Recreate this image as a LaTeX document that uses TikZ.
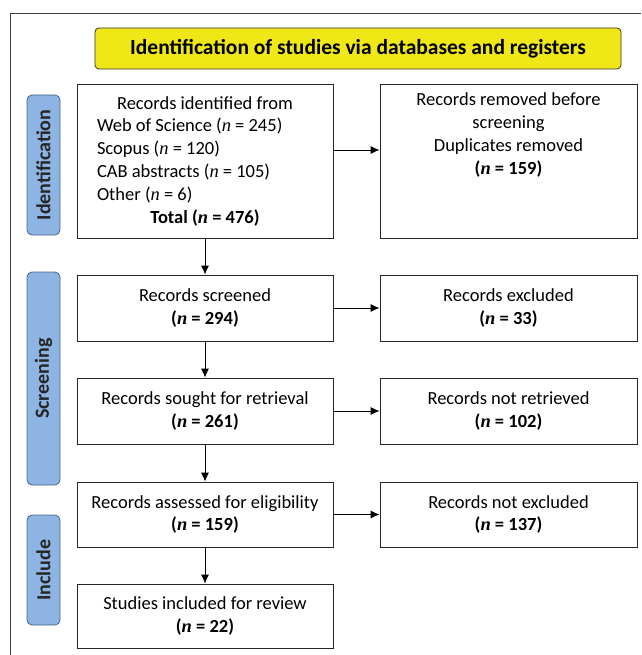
\documentclass[tikz,border=0pt]{standalone}
\usepackage{fontspec}
\setmainfont{Carlito}
\newfontfamily\serifn{Liberation Serif}
\newcommand\nn{{\serifn\itshape n}}
\usetikzlibrary{arrows.meta}
\definecolor{sideblue}{RGB}{141,180,226}
\definecolor{sideedge}{RGB}{70,100,140}
\definecolor{titleyellow}{RGB}{240,232,22}
\begin{document}
\begin{tikzpicture}[x=1pt,y=-1pt,
  box/.style={draw=black!85, line width=0.8pt, fill=white, minimum width=256, align=center, inner sep=0pt, font=\fontsize{18.5}{22.8}\selectfont},
  rbox/.style={box, minimum width=257},
  txt/.style={align=center, inner sep=0pt, font=\fontsize{18.5}{22.8}\selectfont},
  side/.style={draw=sideedge, line width=0.8pt, fill=sideblue, rounded corners=5pt, rotate=90, minimum height=33, inner sep=0pt, font=\fontsize{20}{22}\selectfont\bfseries, text=black!85},
  arr/.style={-{Latex[length=9pt,width=8pt]}, line width=0.8pt, black}
]
\useasboundingbox (0,0) rectangle (641,655);
\draw[black!75, line width=0.9pt] (10,655) -- (10,13) -- (641,13);
\node[draw=black!80, line width=0.8pt, fill=titleyellow, rounded corners=4pt, minimum width=526, minimum height=41, inner sep=0pt, font=\fontsize{21.5}{24}\selectfont\bfseries] (title) at (358,48.5) {Identification of studies via databases and registers};
\node[side, minimum width=140] (s1) at (43.5,165) {Identification};
\node[side, minimum width=213] (s2) at (43.5,378.5) {Screening};
\node[side, minimum width=110] (s3) at (43.5,570) {Include};
\node[box, minimum height=154] (b1) at (205,161) {\parbox{216pt}{\centering Records identified from\par\raggedright Web of Science (\nn{} = 245)\par Scopus (\nn{} = 120)\par CAB abstracts (\nn{} = 105)\par Other (\nn{} = 6)\par\centering\textbf{Total (\nn{} = 476)}\par}};
\node[box, minimum height=66] (b2) at (205,308) {Records screened\\\textbf{(\nn{} = 294)}};
\node[box, minimum height=66] (b3) at (205,411) {Records sought for retrieval\\\textbf{(\nn{} = 261)}};
\node[box, minimum height=65] (b4) at (205,514.5) {Records assessed for eligibility\\\textbf{(\nn{} = 159)}};
\node[box, minimum height=64] (b5) at (205,616) {Studies included for review\\\textbf{(\nn{} = 22)}};
\node[rbox, minimum height=154] (r1) at (508.5,161) {};
\node[txt, anchor=north] (r1t) at ([yshift=-9pt]r1.north) {Records removed before\\screening\\Duplicates removed\\\textbf{(\nn{} = 159)}};
\node[rbox, minimum height=66] (r2) at (508.5,308) {Records excluded\\\textbf{(\nn{} = 33)}};
\node[rbox, minimum height=66] (r3) at (508.5,411) {Records not retrieved\\\textbf{(\nn{} = 102)}};
\node[rbox, minimum height=65] (r4) at (508.5,514.5) {Records not excluded\\\textbf{(\nn{} = 137)}};
\draw[arr] ([yshift=11pt]b1.east) -- ([yshift=11pt]r1.west);
\draw[arr] (b2) -- (r2);
\draw[arr] (b3) -- (r3);
\draw[arr] (b4) -- (r4);
\draw[arr] (b1) -- (b2);
\draw[arr] (b2) -- (b3);
\draw[arr] (b3) -- (b4);
\draw[arr] (b4) -- (b5);
\end{tikzpicture}
\end{document}
